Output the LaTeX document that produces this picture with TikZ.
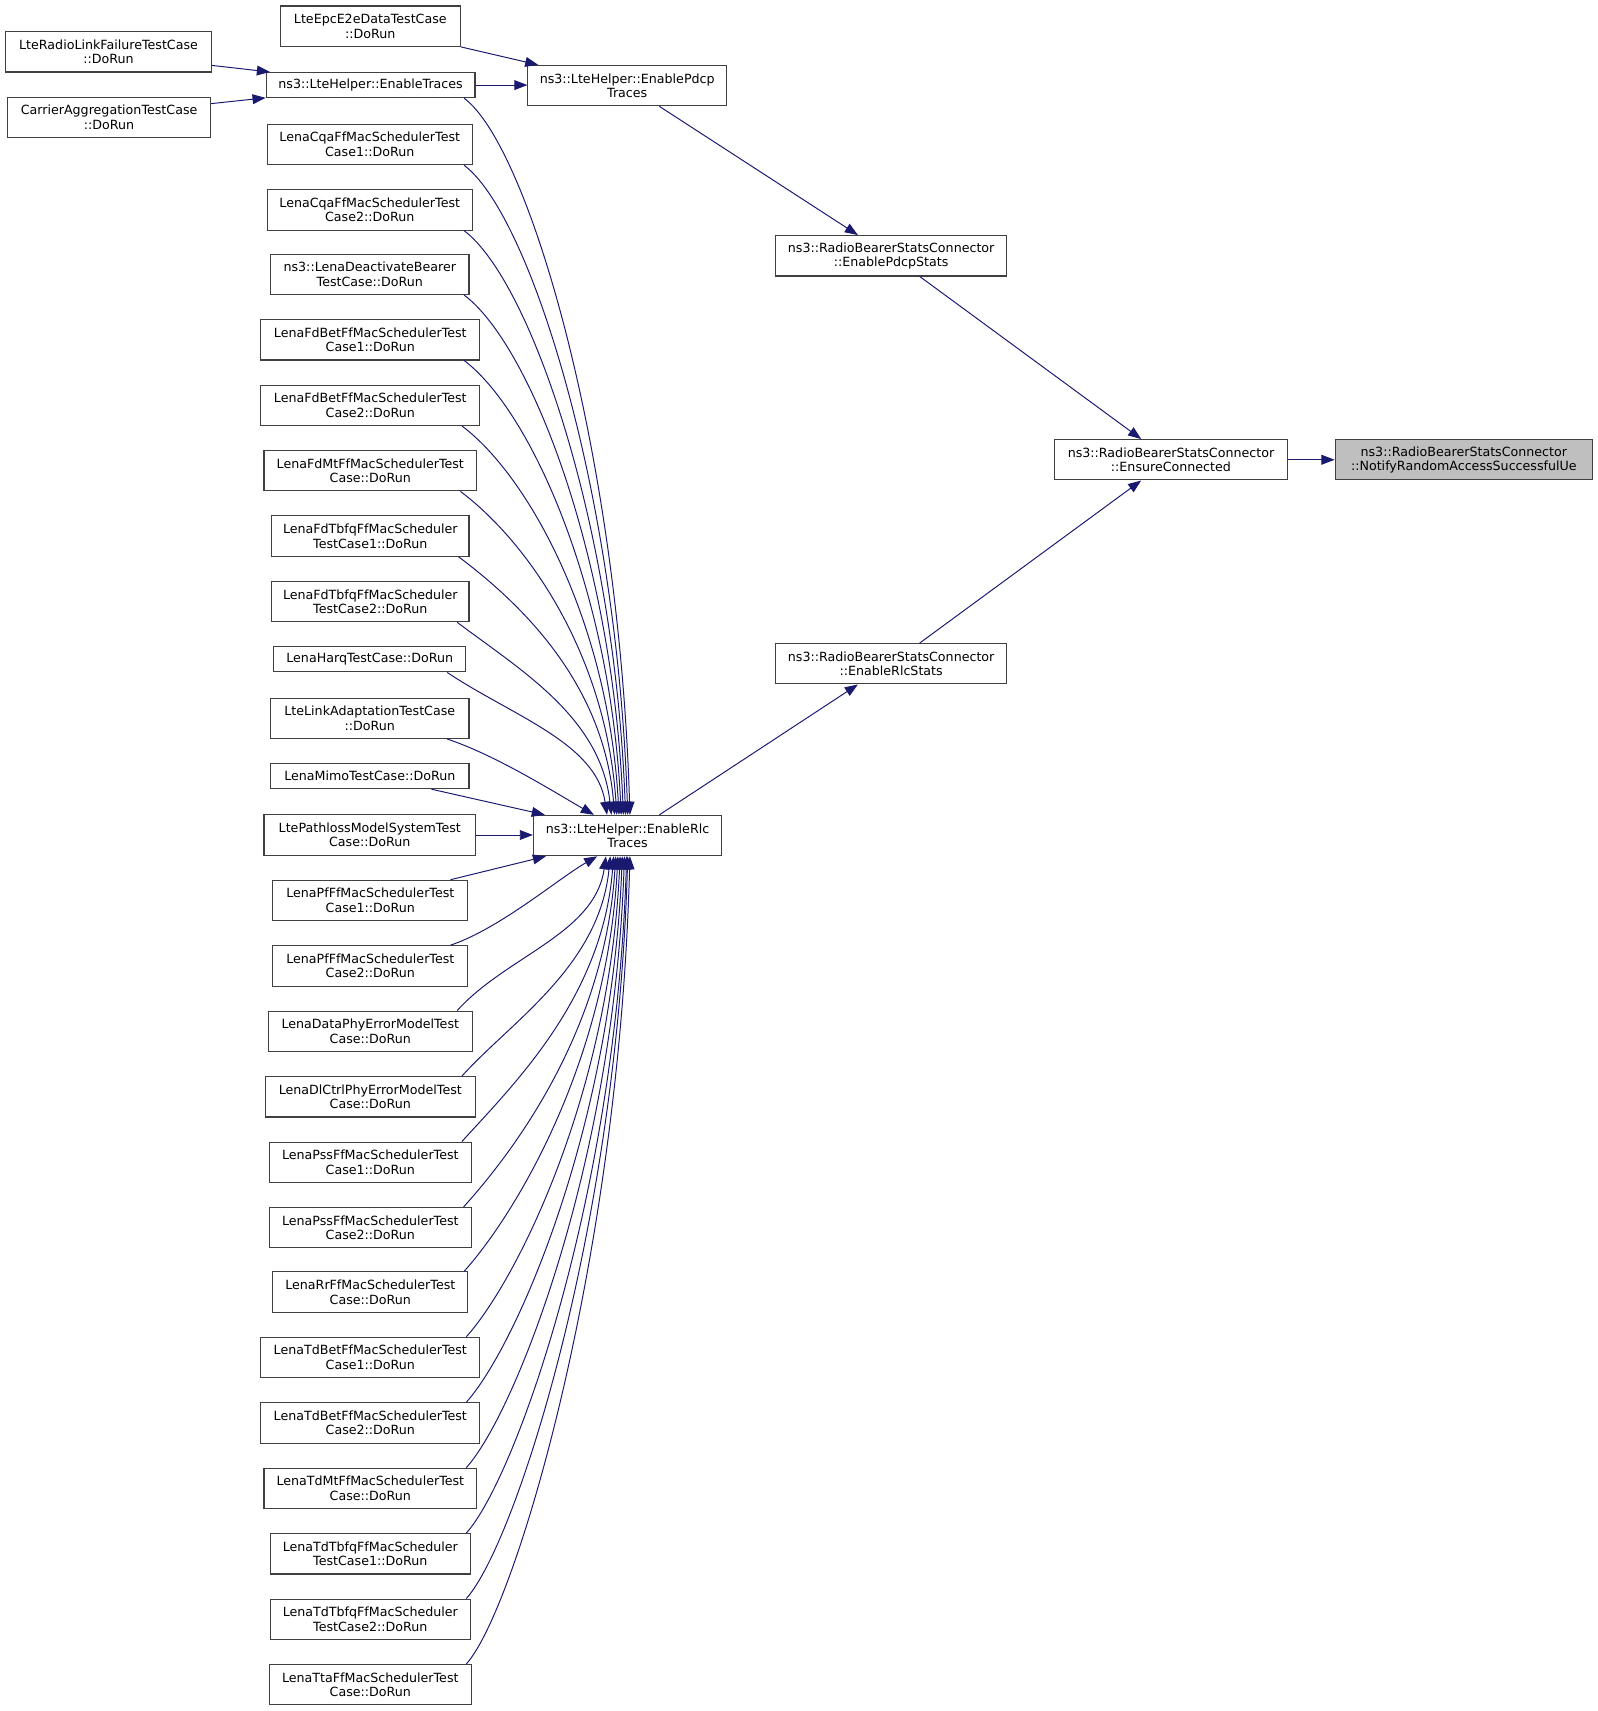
\documentclass[tikz,border=0pt]{standalone}
\usepackage{fontspec}
\setmainfont{DejaVu Sans}
\usetikzlibrary{arrows.meta}
\definecolor{edgeblue}{HTML}{191970}
\definecolor{boxgray}{HTML}{404040}
\definecolor{hilite}{HTML}{BFBFBF}
\newcommand\fnbox[6]{\node[fbox, minimum width=#4pt, minimum height=#5pt] (#1) at (#2,-#3) {#6};}
\begin{document}
\begin{tikzpicture}[x=1pt,y=1pt,
  fbox/.style={draw=boxgray, line width=1pt, fill=white, align=center, inner sep=0pt,
    font=\fontsize{11.6}{13.3}\selectfont},
  calledge/.style={draw=edgeblue, line width=0.9pt, -{Triangle[length=12pt,width=9pt]}}]
\useasboundingbox (0,0) rectangle (1464.2,-1568.6);

% left column
\fnbox{lrlf}{99.5}{47.5}{189}{37}{LteRadioLinkFailureTestCase\\::DoRun}
\fnbox{carr}{100}{107.5}{186}{37}{CarrierAggregationTestCase\\::DoRun}

% second column
\fnbox{epc}{339.5}{24}{165}{37}{LteEpcE2eDataTestCase\\::DoRun}
\fnbox{entr}{339.75}{78}{191.5}{23}{ns3::LteHelper::EnableTraces}
\fnbox{cqa1}{339}{132.5}{188}{37}{LenaCqaFfMacSchedulerTest\\Case1::DoRun}
\fnbox{cqa2}{339}{192.5}{188}{37}{LenaCqaFfMacSchedulerTest\\Case2::DoRun}
\fnbox{deact}{339}{251.5}{182}{37}{ns3::LenaDeactivateBearer\\TestCase::DoRun}
\fnbox{fdbet1}{339.5}{311.5}{201}{37}{LenaFdBetFfMacSchedulerTest\\Case1::DoRun}
\fnbox{fdbet2}{339.5}{371.5}{201}{37}{LenaFdBetFfMacSchedulerTest\\Case2::DoRun}
\fnbox{fdmt}{339.5}{431.5}{195}{37}{LenaFdMtFfMacSchedulerTest\\Case::DoRun}
\fnbox{fdtbfq1}{339.5}{491.5}{181}{37}{LenaFdTbfqFfMacScheduler\\TestCase1::DoRun}
\fnbox{fdtbfq2}{339.5}{551.5}{181}{37}{LenaFdTbfqFfMacScheduler\\TestCase2::DoRun}
\fnbox{harq}{339}{604.5}{176}{23}{LenaHarqTestCase::DoRun}
\fnbox{linkad}{339}{658.5}{182}{37}{LteLinkAdaptationTestCase\\::DoRun}
\fnbox{mimo}{339}{711.5}{182}{23}{LenaMimoTestCase::DoRun}
\fnbox{pathloss}{339}{765.5}{194}{37}{LtePathlossModelSystemTest\\Case::DoRun}
\fnbox{pf1}{339.5}{825.5}{179}{37}{LenaPfFfMacSchedulerTest\\Case1::DoRun}
\fnbox{pf2}{339.5}{885.5}{179}{37}{LenaPfFfMacSchedulerTest\\Case2::DoRun}
\fnbox{dataphy}{339.5}{945.5}{187}{37}{LenaDataPhyErrorModelTest\\Case::DoRun}
\fnbox{dlctrl}{339.5}{1005.5}{193}{37}{LenaDlCtrlPhyErrorModelTest\\Case::DoRun}
\fnbox{pss1}{339.5}{1065.5}{185}{37}{LenaPssFfMacSchedulerTest\\Case1::DoRun}
\fnbox{pss2}{339.5}{1125.5}{185}{37}{LenaPssFfMacSchedulerTest\\Case2::DoRun}
\fnbox{rr}{339.5}{1184.5}{179}{37}{LenaRrFfMacSchedulerTest\\Case::DoRun}
\fnbox{tdbet1}{339.5}{1244.5}{201}{37}{LenaTdBetFfMacSchedulerTest\\Case1::DoRun}
\fnbox{tdbet2}{339.5}{1304.5}{201}{37}{LenaTdBetFfMacSchedulerTest\\Case2::DoRun}
\fnbox{tdmt}{339.5}{1364.5}{195}{37}{LenaTdMtFfMacSchedulerTest\\Case::DoRun}
\fnbox{tdtbfq1}{339.5}{1424.5}{183}{37}{LenaTdTbfqFfMacScheduler\\TestCase1::DoRun}
\fnbox{tdtbfq2}{339.5}{1484.5}{183}{37}{LenaTdTbfqFfMacScheduler\\TestCase2::DoRun}
\fnbox{tta}{339.5}{1544.5}{185}{37}{LenaTtaFfMacSchedulerTest\\Case::DoRun}

% third column
\fnbox{pdcptr}{575}{78.5}{182}{37}{ns3::LteHelper::EnablePdcp\\Traces}
\fnbox{rlctr}{575.3}{766}{172.6}{37}{ns3::LteHelper::EnableRlc\\Traces}

% fourth column
\fnbox{pdcpst}{817}{234.5}{212}{37}{ns3::RadioBearerStatsConnector\\::EnablePdcpStats}
\fnbox{rlcst}{817}{608.5}{212}{37}{ns3::RadioBearerStatsConnector\\::EnableRlcStats}

% fifth and sixth
\fnbox{ens}{1073.5}{421.5}{213}{37}{ns3::RadioBearerStatsConnector\\::EnsureConnected}
\node[fbox, fill=hilite, minimum width=236pt, minimum height=37pt] (notify) at (1342,-421.5)
  {ns3::RadioBearerStatsConnector\\::NotifyRandomAccessSuccessfulUe};

% edges at the top
\draw[calledge] ([yshift=6.5pt]lrlf.south east) -- ([xshift=4pt]entr.north west);
\draw[calledge] ([yshift=-6.5pt]carr.north east) -- ([yshift=0.3pt]entr.south west);
\draw[calledge] (epc.south east) -- ([xshift=10pt]pdcptr.north west);
\draw[calledge] (entr.east) -- (entr.east -| pdcptr.west);
\draw[calledge] ([xshift=121pt]pdcptr.south west) -- ([xshift=76pt]pdcpst.north west);
\draw[calledge] ([xshift=132.7pt]pdcpst.south west) -- ([xshift=79.7pt]ens.north west);
\draw[calledge] ([xshift=132.7pt]rlcst.north west) -- ([xshift=79.7pt]ens.south west);
\draw[calledge] (ens.east) -- (notify.west);
\draw[calledge] ([xshift=116pt]rlctr.north west) -- ([xshift=76pt]rlcst.south west);

% edges into EnableRlc Traces from above
\draw[calledge] ([xshift=-10.5pt]entr.south east) .. controls +(60,-45) and +(-10,329) .. ([xshift=89pt]rlctr.north west);
\draw[calledge] ([xshift=-8pt]cqa1.south east) .. controls +(60,-45) and +(-10,298) .. ([xshift=87pt]rlctr.north west);
\draw[calledge] ([xshift=-8pt]cqa2.south east) .. controls +(60,-45) and +(-10,268) .. ([xshift=85pt]rlctr.north west);
\draw[calledge] ([xshift=-5pt]deact.south east) .. controls +(60,-45) and +(-10,239) .. ([xshift=83pt]rlctr.north west);
\draw[calledge] ([xshift=-15pt]fdbet1.south east) .. controls +(60,-45) and +(-10,209) .. ([xshift=81pt]rlctr.north west);
\draw[calledge] ([xshift=-17pt]fdbet2.south east) .. controls +(60,-45) and +(-10,179) .. ([xshift=79pt]rlctr.north west);
\draw[calledge] ([xshift=-15.4pt]fdmt.south east) .. controls +(60,-45) and +(-10,149) .. ([xshift=77pt]rlctr.north west);
\draw[calledge] ([xshift=-10pt]fdtbfq1.south east) .. controls +(60,-45) and +(-10,119) .. ([xshift=75pt]rlctr.north west);
\draw[calledge] ([xshift=-11.4pt]fdtbfq2.south east) .. controls +(60,-45) and +(-10,89) .. ([xshift=72pt]rlctr.north west);
\draw[calledge] ([xshift=-17.5pt]harq.south east) .. controls +(60,-40) and +(-10,66) .. ([xshift=68pt]rlctr.north west);
\draw[calledge] ([xshift=-20.5pt]linkad.south east) .. controls +(45,-15) and +(-35,20) .. ([xshift=56pt]rlctr.north west);
\draw[calledge] ([xshift=-35pt]mimo.south east) -- ([xshift=11pt]rlctr.north west);
\draw[calledge] (pathloss.east) -- (pathloss.east -| rlctr.west);

% edges into EnableRlc Traces from below
\draw[calledge] ([xshift=-16.5pt]pf1.north east) -- ([xshift=12pt]rlctr.south west);
\draw[calledge] ([xshift=-16.5pt]pf2.north east) .. controls +(45,15) and +(-35,-20) .. ([xshift=59pt]rlctr.south west);
\draw[calledge] ([xshift=-14.4pt]dataphy.north east) .. controls +(45,50) and +(-10,-71) .. ([xshift=67pt]rlctr.south west);
\draw[calledge] ([xshift=-13pt]dlctrl.north east) .. controls +(45,50) and +(-10,-101) .. ([xshift=71pt]rlctr.south west);
\draw[calledge] ([xshift=-9pt]pss1.north east) .. controls +(45,50) and +(-10,-131) .. ([xshift=74pt]rlctr.south west);
\draw[calledge] ([xshift=-7.5pt]pss2.north east) .. controls +(45,50) and +(-10,-161) .. ([xshift=76pt]rlctr.south west);
\draw[calledge] ([xshift=-4pt]rr.north east) .. controls +(45,50) and +(-10,-191) .. ([xshift=78pt]rlctr.south west);
\draw[calledge] ([xshift=-13pt]tdbet1.north east) .. controls +(45,50) and +(-10,-221) .. ([xshift=80pt]rlctr.south west);
\draw[calledge] ([xshift=-13pt]tdbet2.north east) .. controls +(45,50) and +(-10,-251) .. ([xshift=82pt]rlctr.south west);
\draw[calledge] ([xshift=-10pt]tdmt.north east) .. controls +(45,50) and +(-10,-281) .. ([xshift=84pt]rlctr.south west);
\draw[calledge] ([xshift=-4pt]tdtbfq1.north east) .. controls +(45,50) and +(-10,-311) .. ([xshift=86pt]rlctr.south west);
\draw[calledge] ([xshift=-4pt]tdtbfq2.north east) .. controls +(45,50) and +(-10,-341) .. ([xshift=87pt]rlctr.south west);
\draw[calledge] ([xshift=-5pt]tta.north east) .. controls +(45,50) and +(-10,-370) .. ([xshift=89pt]rlctr.south west);
\end{tikzpicture}
\end{document}
